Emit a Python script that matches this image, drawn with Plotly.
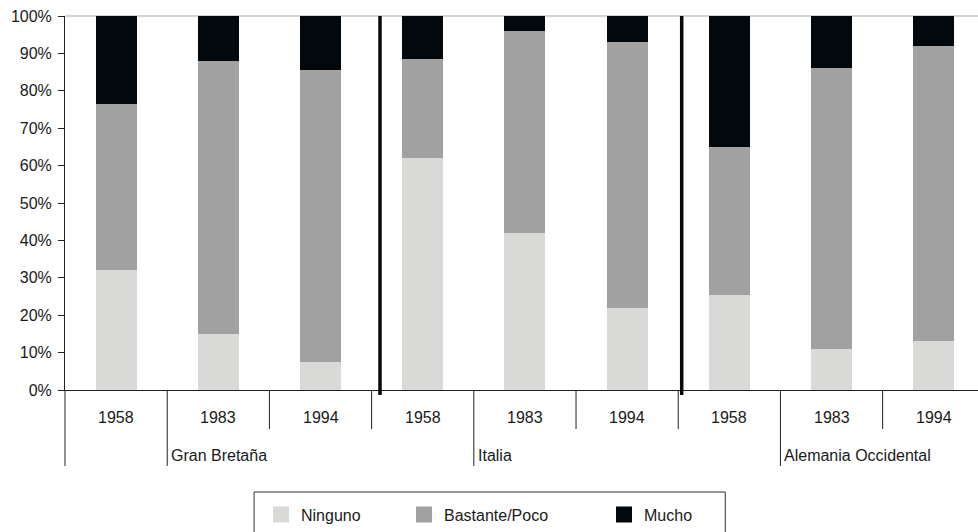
import plotly.graph_objects as go

# Survey shares by country and year (percent of respondents)
countries = ["Gran Bretaña", "Italia", "Alemania Occidental"]
years = ["1958", "1983", "1994"]
ninguno = [32, 15, 7.5, 62, 42, 22, 25.5, 11, 13]
bastante_poco = [44.5, 73, 78, 26.5, 54, 71, 39.5, 75, 79]
mucho = [23.5, 12, 14.5, 11.5, 4, 7, 35, 14, 8]

series = [
    ("Ninguno", ninguno, "#d9d9d7", "legend"),
    ("Bastante/Poco", bastante_poco, "#a1a1a1", "legend2"),
    ("Mucho", mucho, "#03080c", "legend3"),
]

year_labels = [y for _ in countries for y in years]
xpos = list(range(len(year_labels)))

FONT = "Liberation Sans, Arial, sans-serif"
TXT = "#1a1a1a"
FS = 16

fig = go.Figure()
for name, vals, color, leg in series:
    fig.add_trace(go.Bar(
        x=xpos, y=[v / 100 for v in vals], name=name, legendgroup=name, showlegend=False,
        marker=dict(color=color, line=dict(width=0)),
    ))
    # legend key: a larger square swatch for each series
    fig.add_trace(go.Scatter(
        x=[None], y=[None], mode="markers", name=name, legendgroup=name, legend=leg,
        showlegend=True, hoverinfo="skip",
        marker=dict(symbol="square", size=16, color=color, line=dict(width=0)),
    ))

shapes = []
# top border of the plot area
shapes.append(dict(type="line", xref="paper", yref="paper", x0=0, x1=1, y0=1, y1=1,
                   line=dict(color="#c8c8c8", width=1.5), layer="below"))
# heavy separators between countries
for sx in [2.582, 5.534]:
    shapes.append(dict(type="line", xref="x", yref="paper", x0=sx, x1=sx, y0=-0.0134, y1=1,
                       line=dict(color="#05090c", width=3.5)))
# category dividers under the axis
for k in range(len(year_labels) - 1):
    bottom = -0.2032 if (k % 3 == 0) else -0.1043
    shapes.append(dict(type="line", xref="x", yref="paper", x0=k + 0.5, x1=k + 0.5,
                       y0=0, y1=bottom, line=dict(color="#222222", width=1)))
shapes.append(dict(type="line", xref="paper", yref="paper", x0=0, x1=0, y0=0, y1=-0.2032,
                   line=dict(color="#222222", width=1)))
# legend frame
shapes.append(dict(type="rect", xref="paper", yref="paper", x0=0.2071, x1=0.7232,
                   y0=-0.2727, y1=-0.46, line=dict(color="#333333", width=1),
                   fillcolor="rgba(0,0,0,0)"))

annotations = []
for x, lab in zip(xpos, year_labels):
    annotations.append(dict(x=x, y=-0.074, xref="x", yref="paper", text=lab,
                            showarrow=False, xanchor="center", yanchor="middle",
                            font=dict(family=FONT, size=FS, color=TXT)))
for i, c in enumerate(countries):
    annotations.append(dict(x=3 * i + 0.5, y=-0.174, xref="x", yref="paper", text=c,
                            showarrow=False, xanchor="left", yanchor="middle", xshift=2,
                            font=dict(family=FONT, size=FS, color=TXT)))

leg_common = dict(orientation="h", yanchor="middle", y=-0.3334, xanchor="left",
                  bgcolor="rgba(0,0,0,0)", borderwidth=0,
                  font=dict(family=FONT, size=FS, color=TXT))

fig.update_layout(
    width=978, height=532,
    margin=dict(l=65, r=0, t=16, b=142),
    paper_bgcolor="white", plot_bgcolor="white",
    barmode="stack", bargap=0.6,
    showlegend=True,
    font=dict(family=FONT, size=FS, color=TXT),
    xaxis=dict(range=[-0.5, 8.433], showticklabels=False, showgrid=False, zeroline=False,
               showline=True, linecolor="#222222", linewidth=1, ticks=""),
    yaxis=dict(range=[0, 1], dtick=0.1, tickformat=".0%", showgrid=False, zeroline=False,
               showline=True, linecolor="#222222", linewidth=1, ticks="outside",
               ticklen=6, tickcolor="#222222", ticklabelstandoff=3,
               tickfont=dict(family=FONT, size=FS, color=TXT)),
    shapes=shapes,
    annotations=annotations,
    legend=dict(x=(261 - 65) / 913, **leg_common),
    legend2=dict(x=(404 - 65) / 913, **leg_common),
    legend3=dict(x=(604 - 65) / 913, **leg_common),
)

fig.write_html("out.html")
